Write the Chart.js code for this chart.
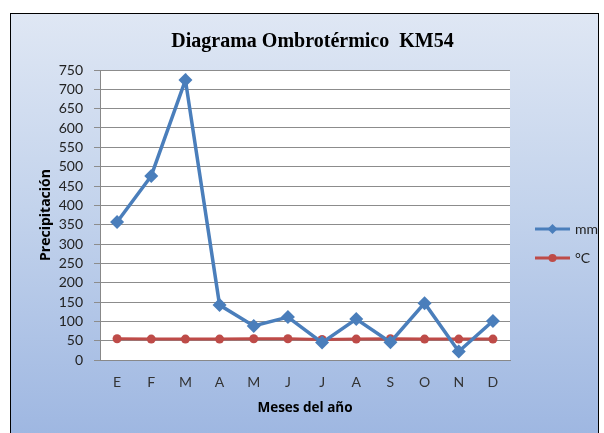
<!DOCTYPE html>
<html>
<head>
<meta charset="utf-8">
<script src="https://cdn.jsdelivr.net/npm/chart.js@4.4.1/dist/chart.umd.min.js"></script>
<style>
  html, body { margin: 0; padding: 0; background: #fff; overflow: hidden; }
  #box {
    position: absolute; left: 10px; top: 13px;
    width: 587px; height: 430px;
    border: 1.5px solid #000;
    background: linear-gradient(to bottom, #dfe7f4 0%, #c3d3ec 45%, #9db6e1 100%);
  }
  canvas { display: block; }
</style>
</head>
<body>
<div id="box"><canvas id="chart1" width="587" height="430"></canvas></div>
<script>
/* datos */
const meses = ['E', 'F', 'M', 'A', 'M', 'J', 'J', 'A', 'S', 'O', 'N', 'D'];
const mm = [357, 476, 724, 142, 88, 111, 45, 106, 46, 147, 22, 101];
const grados = [55, 54, 54, 54, 55, 55, 53, 54, 55, 54, 54, 54];

const azul = '#4a7ebb';
const rojo = '#be4b48';

const plotBg = {
    id: 'plotBg',
    beforeDraw(chart) {
        const { ctx, chartArea: a } = chart;
        ctx.save();
        ctx.fillStyle = '#ffffff';
        ctx.fillRect(a.left, a.top, a.right - a.left, a.bottom - a.top);
        ctx.restore();
    }
};

// leyenda estilo Excel (linea + marcador), a la derecha del area
const excelLegend = {
    id: 'excelLegend',
    afterDraw(chart) {
        const { ctx, chartArea: a } = chart;
        const x0 = a.right + 25;
        let y = (a.top + a.bottom) / 2 + 14;
        ctx.save();
        chart.data.datasets.forEach(ds => {
            ctx.strokeStyle = ds.borderColor;
            ctx.lineWidth = 3;
            ctx.beginPath(); ctx.moveTo(x0, y); ctx.lineTo(x0 + 35, y); ctx.stroke();
            ctx.fillStyle = ds.backgroundColor;
            ctx.beginPath();
            if (ds.pointStyle === 'rectRot') {
                ctx.moveTo(x0 + 17.5, y - 5); ctx.lineTo(x0 + 22.5, y);
                ctx.lineTo(x0 + 17.5, y + 5); ctx.lineTo(x0 + 12.5, y);
            } else {
                ctx.arc(x0 + 17.5, y, 4, 0, Math.PI * 2);
            }
            ctx.fill();
            ctx.fillStyle = '#222';
            ctx.font = '14px Lato';
            ctx.textBaseline = 'middle';
            ctx.fillText(ds.label, x0 + 40, y);
            y += 29;
        });
        ctx.restore();
    }
};

const ctx = document.getElementById('chart1');

const data = {
    labels: meses,
    datasets: [
        {
            label: 'mm',
            data: mm,
            borderColor: azul,
            backgroundColor: azul,
            borderWidth: 3.5,
            pointStyle: 'rectRot',
            pointRadius: 7,
            pointBorderWidth: 0,
            tension: 0
        },
        {
            label: '°C',
            data: grados,
            borderColor: rojo,
            backgroundColor: rojo,
            borderWidth: 3,
            pointStyle: 'circle',
            pointRadius: 4.5,
            pointBorderWidth: 0,
            tension: 0
        }
    ]
};

const config = {
    type: 'line',
    data,
    plugins: [plotBg, excelLegend],
    options: {
        responsive: false,
        animation: false,
        layout: { padding: { left: 16, right: 0, top: 4, bottom: 24 } },
        plugins: {
            title: {
                display: true,
                text: 'Diagrama Ombrotérmico  KM54',
                font: { family: 'Liberation Serif', size: 20, weight: 'bold' },
                color: '#000',
                padding: { top: 12, bottom: 16 }
            },
            legend: { display: false },
            tooltip: { enabled: false }
        },
        scales: {
            x: {
                offset: true,
                grid: { display: false },
                border: { display: true, color: '#888', width: 1 },
                ticks: { font: { family: 'Lato', size: 14 }, color: '#333', padding: 6 },
                title: {
                    display: true,
                    text: 'Meses del año',
                    font: { family: 'Open Sans', size: 13.5, weight: 'bold' },
                    color: '#000',
                    padding: { top: 3 }
                }
            },
            y: {
                min: 0,
                max: 750,
                afterFit(s) { s.width = 73; },
                ticks: {
                    stepSize: 50,
                    autoSkip: false,
                    font: { family: 'Lato', size: 14 },
                    color: '#222',
                    padding: 11
                },
                grid: { color: '#8c8c8c', lineWidth: 1, tickLength: 6 },
                border: { display: true, color: '#888', width: 1 },
                title: {
                    display: true,
                    text: 'Precipitación',
                    font: { family: 'Open Sans', size: 14, weight: 'bold' },
                    color: '#000',
                    padding: { top: 11, bottom: 0 }
                }
            },
            // eje vacio que reserva el hueco de la leyenda
            hueco: {
                position: 'right',
                display: true,
                afterFit(s) { s.width = 88; },
                grid: { display: false },
                border: { display: false },
                ticks: { display: false }
            }
        }
    }
};

const chart1 = new Chart(ctx, config);
</script>
</body>
</html>
